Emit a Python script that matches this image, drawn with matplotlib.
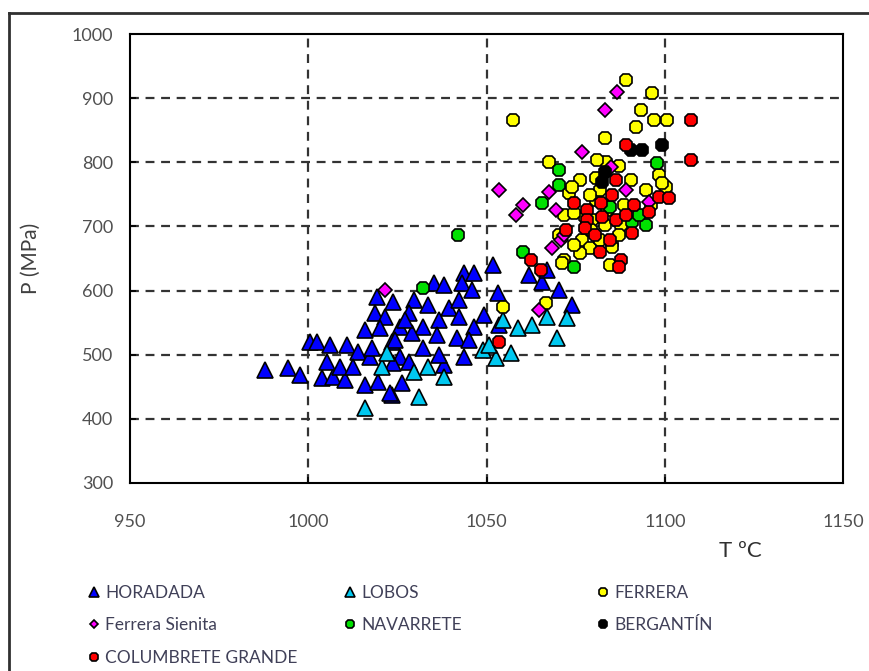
import matplotlib
matplotlib.use("Agg")
import matplotlib.pyplot as plt
from matplotlib.lines import Line2D

# Temperature (ºC) and pressure (MPa) estimates per locality
horadada_T = [987.8, 994.3, 997.6, 1000.4, 1002.4, 1006.0, 1010.8, 1013.9, 1003.8, 1006.9,
              1010.2, 1005.2, 1008.8, 1012.5, 1015.8, 1019.5, 1023.4, 1019.2, 1023.7, 1018.6,
              1021.4, 1015.8, 1020.0, 1023.4, 1051.7, 1043.8, 1046.6, 1035.4, 1038.2, 1043.0,
              1045.8, 1053.1, 1039.6, 1042.4, 1029.8, 1049.4, 1042.4, 1036.8, 1032.1, 1025.6,
              1046.6, 1029.0, 1036.0, 1041.6, 1024.2, 1032.1, 1043.8, 1025.6, 1023.7, 1026.2,
              1022.8, 1062.0, 1065.7, 1067.1, 1070.4, 1074.1, 1028.4, 1033.5, 1038.2, 1045.2,
              1053.6, 1036.8, 1028.4, 1017.2, 1017.8, 1027.0]
horadada_P = [476, 479, 468, 520, 520, 515, 515, 504, 464, 465,
              461, 489, 481, 481, 453, 457, 437, 590, 582, 565,
              559, 539, 542, 520, 640, 627, 627, 612, 609, 612,
              601, 596, 573, 585, 585, 562, 559, 554, 543, 543,
              543, 534, 531, 526, 523, 510, 496, 496, 487, 456,
              440, 624, 613, 632, 601, 578, 565, 577, 484, 523,
              546, 499, 489, 496, 510, 554]

lobos_T = [1015.8, 1020.6, 1022.0, 1029.8, 1033.5, 1038.2, 1031.2, 1048.9, 1052.8, 1057.0,
           1054.5, 1058.7, 1062.9, 1067.1, 1072.7, 1069.9, 1050.8]
lobos_P = [417, 481, 503, 473, 481, 465, 434, 507, 495, 503,
           554, 542, 546, 559, 557, 526, 515]

ferrera_T = [1057.3, 1089.2, 1096.5, 1093.4, 1097.1, 1100.7, 1092.0, 1083.1, 1067.6, 1076.1,
             1080.8, 1083.6, 1087.3, 1094.8, 1098.5, 1100.4, 1073.2, 1071.8, 1077.5, 1079.7,
             1080.8, 1074.6, 1079.4, 1076.9, 1078.9, 1071.8, 1076.1, 1084.5, 1085.3, 1085.1,
             1054.5, 1066.8, 1071.3, 1074.1, 1099.3, 1081.7, 1088.7, 1096.2, 1070.4, 1081.7,
             1083.9, 1087.8, 1078.9, 1083.1, 1087.3, 1074.6, 1090.6, 1081.1]
ferrera_P = [866, 928, 908, 882, 866, 866, 855, 838, 800, 772,
             775, 800, 794, 757, 780, 761, 752, 718, 715, 710,
             741, 721, 694, 679, 666, 648, 659, 640, 674, 668,
             574, 581, 643, 761, 768, 757, 733, 733, 687, 679,
             726, 702, 749, 702, 687, 671, 772, 804]

sienita_T = [1021.4, 1053.6, 1058.4, 1060.1, 1067.6, 1069.6, 1068.5, 1071.0, 1064.8, 1076.9,
             1083.1, 1086.7, 1085.0, 1089.2, 1095.7, 1071.8]
sienita_P = [601, 757, 718, 733, 754, 726, 666, 679, 570, 816,
             881, 910, 793, 757, 738, 687]

navarrete_T = [1041.9, 1032.1, 1070.4, 1070.4, 1065.7, 1060.1, 1074.6, 1097.9, 1090.9, 1094.8,
               1084.5, 1092.9]
navarrete_P = [687, 604, 788, 765, 737, 660, 637, 799, 707, 702,
               730, 718]

bergantin_T = [1090.6, 1093.7, 1099.3, 1082.5, 1083.3]
bergantin_P = [819, 819, 827, 769, 785]

columbrete_T = [1053.6, 1062.6, 1065.4, 1107.4, 1107.4, 1089.2, 1086.4, 1074.6, 1078.3, 1082.2,
                1091.5, 1095.7, 1098.5, 1101.3, 1072.4, 1078.3, 1082.5, 1086.4, 1090.9, 1081.7,
                1087.8, 1087.3, 1077.5, 1084.5, 1080.3, 1085.1, 1089.0]
columbrete_P = [520, 648, 632, 866, 804, 827, 772, 737, 726, 737,
                733, 722, 746, 744, 694, 710, 715, 710, 690, 660,
                648, 637, 698, 679, 687, 749, 718]

x_ticks = [950, 1000, 1050, 1100, 1150]
y_ticks = [300, 400, 500, 600, 700, 800, 900, 1000]

series = [
    ("HORADADA", horadada_T, horadada_P, "^", "#0000ff", 11),
    ("LOBOS", lobos_T, lobos_P, "^", "#00c8f0", 11),
    ("FERRERA", ferrera_T, ferrera_P, "8", "#ffff00", 10),
    ("Ferrera Sienita", sienita_T, sienita_P, "D", "#ff00ff", 7.5),
    ("NAVARRETE", navarrete_T, navarrete_P, "8", "#00e000", 10),
    ("BERGANTÍN", bergantin_T, bergantin_P, "8", "#000000", 10),
    ("COLUMBRETE GRANDE", columbrete_T, columbrete_P, "8", "#ff0000", 10),
]

font = ["Lato", "DejaVu Sans"]
plt.rcParams["font.family"] = font

fig = plt.figure(figsize=(8.70, 6.71), dpi=100)
ax = fig.add_axes([0.1494, 0.2802, 0.9690 - 0.1494, 0.9493 - 0.2802])

handles = {}
for name, t, p, mk, col, ms in series:
    h, = ax.plot(t, p, linestyle="none", marker=mk, markersize=ms,
                 markerfacecolor=col, markeredgecolor="black",
                 markeredgewidth=1.2, label=name)
    handles[name] = h

ax.set_xlim(950, 1150)
ax.set_ylim(300, 1000)
ax.set_xticks(x_ticks)
ax.set_yticks(y_ticks)
ax.tick_params(direction="in", length=4, width=1.2, colors="black",
               labelcolor="#505050", labelsize=13)
ax.tick_params(axis="x", pad=22)
ax.tick_params(axis="y", pad=12)

for v in x_ticks[1:-1]:
    ax.axvline(v, color="#333333", lw=1.6, ls=(0, (4, 3)), zorder=0.5)
for v in y_ticks[1:-1]:
    ax.axhline(v, color="#333333", lw=1.6, ls=(0, (4, 3)), zorder=0.5)

for s in ax.spines.values():
    s.set_linewidth(1.5)
    s.set_color("black")

ax.set_ylabel("P (MPa)", fontsize=15, color="#404040", labelpad=22)
fig.text(740 / 870, 1 - 551 / 671, "T ºC", fontsize=16, color="#303030",
         ha="center", va="center")

# Outer frame of the chart area
fig.add_artist(Line2D([9 / 870, 9 / 870], [0, 1 - 13 / 671], transform=fig.transFigure,
                      color="#303030", lw=2))
fig.add_artist(Line2D([9 / 870, 1], [1 - 13 / 671, 1 - 13 / 671], transform=fig.transFigure,
                      color="#303030", lw=2))

# Legend laid out as three columns below the plot
columns = [
    (89, ["HORADADA", "Ferrera Sienita", "COLUMBRETE GRANDE"]),
    (345, ["LOBOS", "NAVARRETE"]),
    (598, ["FERRERA", "BERGANTÍN"]),
]
for xpix, names in columns:
    leg = fig.legend([handles[n] for n in names], names, ncol=1,
                     loc="upper left", bbox_to_anchor=(xpix / 870, 1 - 585 / 671),
                     frameon=False, markerscale=0.6, handlelength=0.6, handletextpad=0.35,
                     labelspacing=0.95, fontsize=12.5, borderpad=0, borderaxespad=0)
    for txt in leg.get_texts():
        txt.set_color("#404058")

fig.savefig("out.png", dpi=100)
